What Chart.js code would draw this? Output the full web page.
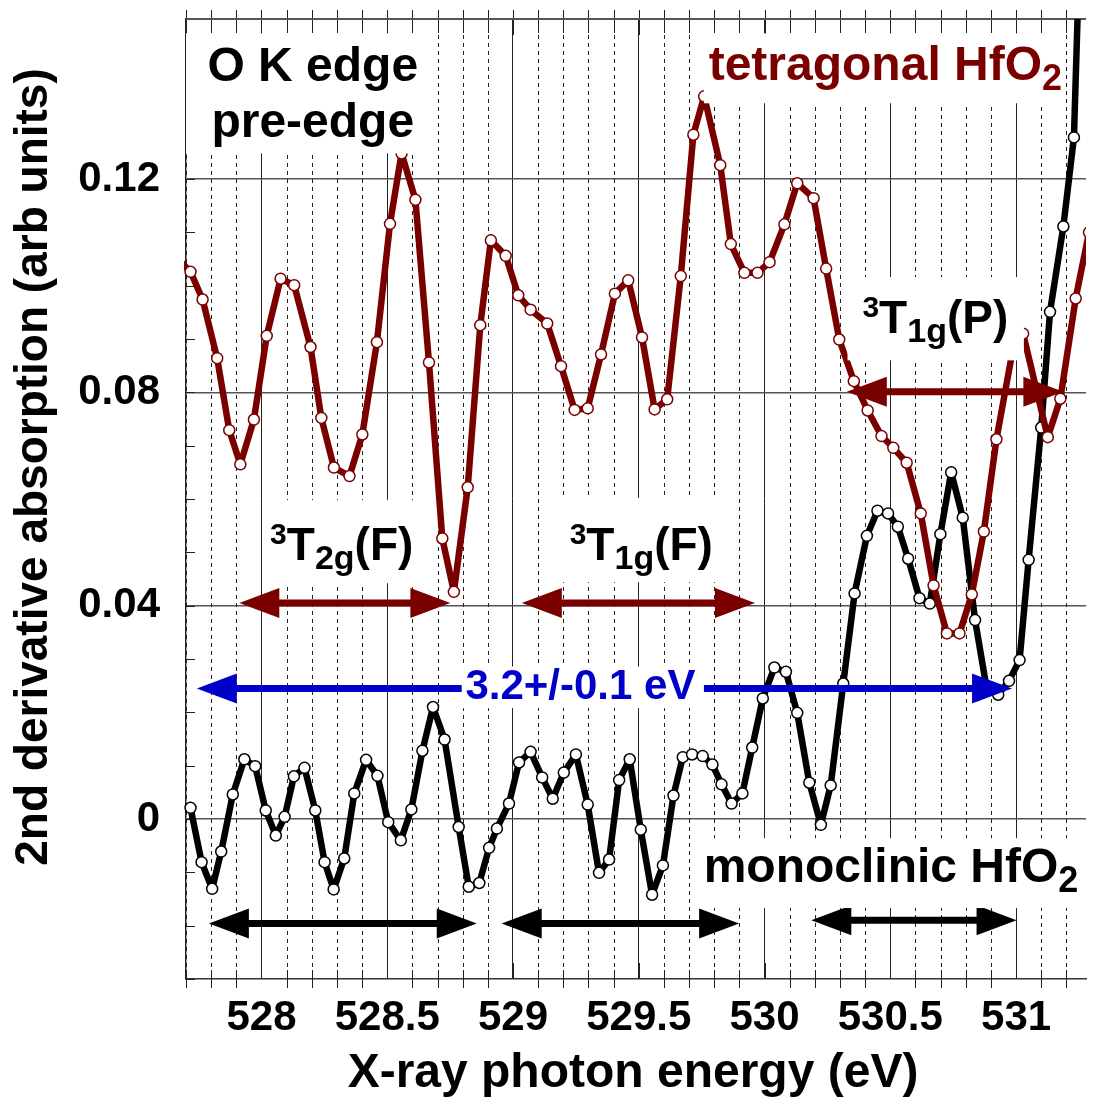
<!DOCTYPE html>
<html>
<head>
<meta charset="utf-8">
<title>O K edge pre-edge of HfO2</title>
<script src="https://cdn.jsdelivr.net/npm/chart.js@4.4.1/dist/chart.umd.min.js"></script>
<style>
  html, body { margin: 0; padding: 0; background: #fff; }
  #wrap { width: 1093px; height: 1104px; }
</style>
</head>
<body>
<div id="wrap"><canvas id="xas" width="1093" height="1104"></canvas></div>
<script>
// tetragonal HfO2, 2nd derivative of the O K pre-edge
const tetraEnergy = [
  527.668, 527.718, 527.766, 527.824, 527.872, 527.916, 527.970, 528.021, 528.076, 528.130,
  528.195, 528.238, 528.288, 528.350, 528.401, 528.459, 528.511, 528.557, 528.612, 528.666,
  528.719, 528.765, 528.820, 528.870, 528.912, 528.971, 529.021, 529.070, 529.136, 529.191,
  529.245, 529.297, 529.350, 529.405, 529.458, 529.513, 529.563, 529.613, 529.667, 529.717,
  529.760, 529.824, 529.866, 529.920, 529.972, 530.020, 530.079, 530.130, 530.195, 530.245,
  530.297, 530.355, 530.410, 530.465, 530.512, 530.565, 530.621, 530.672, 530.725, 530.775,
  530.824, 530.872, 530.922, 530.985, 531.028, 531.126, 531.176, 531.237, 531.290
];
const tetraSignal = [
  0.1050, 0.1026, 0.0974, 0.0864, 0.0729, 0.0665, 0.0749, 0.0906, 0.1013, 0.1001,
  0.0885, 0.0752, 0.0659, 0.0643, 0.0721, 0.0894, 0.1116, 0.1248, 0.1161, 0.0856,
  0.0526, 0.0426, 0.0622, 0.0926, 0.1085, 0.1056, 0.0982, 0.0955, 0.0929, 0.0849,
  0.0767, 0.0770, 0.0871, 0.0985, 0.1010, 0.0903, 0.0768, 0.0787, 0.1018, 0.1283,
  0.1355, 0.1226, 0.1078, 0.1024, 0.1024, 0.1044, 0.1115, 0.1192, 0.1164, 0.1032,
  0.0899, 0.0821, 0.0766, 0.0718, 0.0696, 0.0668, 0.0573, 0.0438, 0.0348, 0.0348,
  0.0421, 0.0539, 0.0712, 0.0875, 0.0910, 0.0716, 0.0788, 0.0976, 0.1100
];

// monoclinic HfO2
const monoEnergy = [
  527.718, 527.762, 527.804, 527.840, 527.886, 527.932, 527.975, 528.017, 528.057, 528.092,
  528.129, 528.171, 528.214, 528.251, 528.287, 528.329, 528.369, 528.416, 528.461, 528.504,
  528.554, 528.596, 528.640, 528.682, 528.728, 528.784, 528.824, 528.866, 528.905, 528.936,
  528.984, 529.024, 529.070, 529.116, 529.158, 529.202, 529.250, 529.297, 529.342, 529.382,
  529.422, 529.464, 529.508, 529.553, 529.596, 529.638, 529.675, 529.712, 529.754, 529.793,
  529.829, 529.869, 529.912, 529.951, 529.993, 530.039, 530.085, 530.130, 530.178, 530.224,
  530.263, 530.313, 530.358, 530.407, 530.449, 530.491, 530.530, 530.571, 530.616, 530.657,
  530.699, 530.742, 530.788, 530.837, 530.883, 530.929, 530.972, 531.014, 531.050, 531.100,
  531.135, 531.188, 531.230, 531.270
];
const monoSignal = [
   0.0021, -0.0081, -0.0131, -0.0061,  0.0046,  0.0112,  0.0099,  0.0016, -0.0031,  0.0004,
   0.0080,  0.0096,  0.0016, -0.0081, -0.0132, -0.0074,  0.0048,  0.0111,  0.0081, -0.0006,
  -0.0040,  0.0018,  0.0128,  0.0210,  0.0149, -0.0015, -0.0127, -0.0120, -0.0054, -0.0018,
   0.0029,  0.0106,  0.0126,  0.0078,  0.0038,  0.0087,  0.0121,  0.0027, -0.0101, -0.0076,
   0.0073,  0.0112, -0.0020, -0.0142, -0.0087,  0.0044,  0.0116,  0.0121,  0.0118,  0.0102,
   0.0065,  0.0029,  0.0048,  0.0134,  0.0226,  0.0284,  0.0276,  0.0199,  0.0068, -0.0011,
   0.0063,  0.0254,  0.0423,  0.0531,  0.0578,  0.0573,  0.0548,  0.0488,  0.0414,  0.0404,
   0.0534,  0.0650,  0.0565,  0.0373,  0.0245,  0.0233,  0.0259,  0.0298,  0.0486,  0.0734,
   0.0951,  0.1111,  0.1278,  0.1900
];

const energyTicks = [528, 528.5, 529, 529.5, 530, 530.5, 531];
const signalTicks = [0, 0.04, 0.08, 0.12];

const FAMILY = "'Liberation Sans', Arial, Helvetica, sans-serif";
const DARK_RED = '#7a0000';
const BLUE = '#0000c8';
const font = size => `bold ${size}px ${FAMILY}`;

// span arrows: energy from/to at a signal level
const spans = [
  { from: 527.912, to: 528.751, v: 0.0405, color: DARK_RED },
  { from: 529.035, to: 529.962, v: 0.0405, color: DARK_RED },
  { from: 530.327, to: 531.188, v: 0.0801, color: DARK_RED },
  { from: 527.743, to: 530.984, v: 0.02445, color: BLUE },
  { from: 527.791, to: 528.856, v: -0.0196, color: '#000' },
  { from: 528.955, to: 529.899, v: -0.0196, color: '#000' },
  { from: 530.186, to: 531.002, v: -0.0190, color: '#000' }
];

// text notes: runs of [text, size, baseline shift]; box = [e0, e1, vTop, vBottom]
const notes = [
  { runs: [['O K edge', 48, 0]], e: 528.204, v: 0.1383, align: 'center', color: '#000',
    box: [527.70, 528.670, 0.1473, 0.1248] },
  { runs: [['pre-edge', 48, 0]], e: 528.204, v: 0.1278, align: 'center', color: '#000' },
  { runs: [['tetragonal HfO', 48, 0], ['2', 36, 10]], e: 529.778, v: 0.1385, align: 'left', color: DARK_RED,
    box: [529.759, 531.196, 0.1473, 0.1342] },
  { runs: [['3', 30, -16], ['T', 46, 0], ['1g', 34, 9], ['(P)', 46, 0]], e: 530.679, v: 0.0911, align: 'center', color: '#000',
    box: [530.330, 531.031, 0.1016, 0.0860] },
  { runs: [['3', 30, -16], ['T', 46, 0], ['2g', 34, 9], ['(F)', 46, 0]], e: 528.319, v: 0.0485, align: 'center', color: '#000',
    box: [528.011, 528.662, 0.0598, 0.0442] },
  { runs: [['3', 30, -16], ['T', 46, 0], ['1g', 34, 9], ['(F)', 46, 0]], e: 529.510, v: 0.0485, align: 'center', color: '#000',
    box: [529.159, 529.866, 0.0602, 0.0444] },
  { runs: [['3.2+/-0.1 eV', 42, 0]], e: 529.268, v: 0.02245, align: 'center', color: BLUE,
    box: [528.796, 529.759, 0.0286, 0.0208] },
  { runs: [['monoclinic HfO', 48, 0], ['2', 36, 10]], e: 529.758, v: -0.0119, align: 'left', color: '#000',
    box: [529.727, 531.278, -0.0036, -0.0167] }
];

function runWidth(ctx, runs) {
  let w = 0;
  for (const [t, s] of runs) { ctx.font = font(s); w += ctx.measureText(t).width; }
  return w;
}

function drawRuns(ctx, runs, x, y, align, color) {
  let cx = align === 'center' ? x - runWidth(ctx, runs) / 2 : x;
  ctx.fillStyle = color;
  ctx.textAlign = 'left';
  ctx.textBaseline = 'alphabetic';
  for (const [t, s, dy] of runs) {
    ctx.font = font(s);
    ctx.fillText(t, cx, y + dy);
    cx += ctx.measureText(t).width;
  }
}

function drawSpan(ctx, x0, x1, y, color) {
  const head = 40, half = 15;
  ctx.strokeStyle = color;
  ctx.fillStyle = color;
  ctx.lineWidth = 7;
  ctx.beginPath();
  ctx.moveTo(x0 + head - 2, y);
  ctx.lineTo(x1 - head + 2, y);
  ctx.stroke();
  ctx.beginPath();
  ctx.moveTo(x0, y);
  ctx.lineTo(x0 + head, y - half);
  ctx.lineTo(x0 + head, y + half);
  ctx.closePath();
  ctx.fill();
  ctx.beginPath();
  ctx.moveTo(x1, y);
  ctx.lineTo(x1 - head, y - half);
  ctx.lineTo(x1 - head, y + half);
  ctx.closePath();
  ctx.fill();
}

// dashed 0.1 eV lines, tick marks and frame under the curves
const frame = {
  id: 'frame',
  beforeDatasetsDraw(chart) {
    const { ctx, chartArea: a, scales: { x, y } } = chart;
    ctx.save();
    ctx.strokeStyle = '#222';
    ctx.lineWidth = 1;
    const first = Math.ceil(x.min * 10), last = Math.floor(x.max * 10);
    for (let t = first; t <= last; t++) {
      const px = Math.round(x.getPixelForValue(t / 10)) + 0.5;
      const major = t % 5 === 0;
      if (!major) {
        ctx.setLineDash([4, 4]);
        ctx.beginPath(); ctx.moveTo(px, a.top); ctx.lineTo(px, a.bottom); ctx.stroke();
      }
      ctx.setLineDash([]);
      ctx.beginPath();
      ctx.moveTo(px, a.top - 9); ctx.lineTo(px, a.top + (major ? 16 : 14));
      if (major) { ctx.moveTo(px, a.bottom - 16); ctx.lineTo(px, a.bottom); }
      else { ctx.moveTo(px, a.bottom - 9); ctx.lineTo(px, a.bottom + 9); }
      ctx.stroke();
    }
    for (let t = Math.ceil(y.min * 100); t <= Math.floor(y.max * 100); t++) {
      const py = Math.round(y.getPixelForValue(t / 100)) + 0.5;
      ctx.beginPath(); ctx.moveTo(a.left, py); ctx.lineTo(a.left + 9, py); ctx.stroke();
    }
    ctx.strokeStyle = '#555';
    ctx.lineWidth = 2;
    ctx.beginPath(); ctx.moveTo(a.left, a.top); ctx.lineTo(a.right, a.top); ctx.stroke();
    ctx.restore();
  },
  afterDatasetsDraw(chart) {
    const { ctx, scales: { x, y } } = chart;
    ctx.save();
    for (const s of spans) {
      drawSpan(ctx, x.getPixelForValue(s.from), x.getPixelForValue(s.to), y.getPixelForValue(s.v), s.color);
    }
    ctx.fillStyle = '#fff';
    for (const n of notes) {
      if (!n.box) continue;
      const [e0, e1, v0, v1] = n.box;
      const x0 = x.getPixelForValue(e0), x1 = x.getPixelForValue(e1);
      const y0 = y.getPixelForValue(v0), y1 = y.getPixelForValue(v1);
      ctx.fillRect(x0, y0, x1 - x0, y1 - y0);
    }
    for (const n of notes) {
      drawRuns(ctx, n.runs, x.getPixelForValue(n.e), y.getPixelForValue(n.v), n.align, n.color);
    }
    ctx.restore();
  },
  afterDraw(chart) {
    const { ctx } = chart;
    ctx.save();
    ctx.fillStyle = '#000';
    ctx.textAlign = 'center';
    ctx.textBaseline = 'alphabetic';
    ctx.font = font(48);
    ctx.fillText('X-ray photon energy (eV)', 633, 1087);
    ctx.translate(47, 467);
    ctx.rotate(-Math.PI / 2);
    ctx.font = font(46);
    ctx.fillText('2nd derivative absorption (arb units)', 0, 0);
    ctx.restore();
  }
};

const tickFont = { family: FAMILY, size: 42, weight: 'bold' };

function series(label, energy, signal, color) {
  return {
    label,
    data: energy.map((e, i) => ({ x: e, y: signal[i] })),
    borderColor: color,
    borderWidth: 6.5,
    borderJoinStyle: 'round',
    pointRadius: 5.5,
    pointBackgroundColor: '#fff',
    pointBorderColor: color,
    pointBorderWidth: 1.5,
    tension: 0,
    clip: { left: 2, top: 0, right: 0, bottom: 0 }
  };
}

new Chart(document.getElementById('xas').getContext('2d'), {
  type: 'line',
  data: {
    datasets: [
      series('tetragonal HfO2', tetraEnergy, tetraSignal, DARK_RED),
      series('monoclinic HfO2', monoEnergy, monoSignal, '#000')
    ]
  },
  options: {
    responsive: false,
    animation: false,
    devicePixelRatio: 1,
    layout: { padding: { top: 19, right: 0, bottom: 0, left: 0 } },
    plugins: { legend: { display: false }, tooltip: { enabled: false } },
    scales: {
      x: {
        type: 'linear',
        min: 527.7,
        max: 531.278,
        afterBuildTicks: s => { s.ticks = energyTicks.map(value => ({ value })); },
        afterFit: s => { s.height = 125; s.paddingLeft = 0; s.paddingRight = 0; },
        ticks: { font: tickFont, color: '#000', padding: 14, maxRotation: 0, autoSkip: false,
                 callback: v => String(v) },
        grid: { color: '#222', lineWidth: 1, drawTicks: false },
        border: { color: '#333', width: 1.5 }
      },
      y: {
        min: -0.03,
        max: 0.15,
        afterBuildTicks: s => { s.ticks = signalTicks.map(value => ({ value })); },
        afterFit: s => { s.width = 186; s.paddingTop = 0; s.paddingBottom = 0; },
        ticks: { font: tickFont, color: '#000', padding: 26,
                 callback: v => (v === 0 ? '0' : v.toFixed(2)) },
        grid: { color: '#555', lineWidth: 1.5, drawTicks: false },
        border: { color: '#222', width: 1.5 }
      }
    }
  },
  plugins: [frame]
});
</script>
</body>
</html>
